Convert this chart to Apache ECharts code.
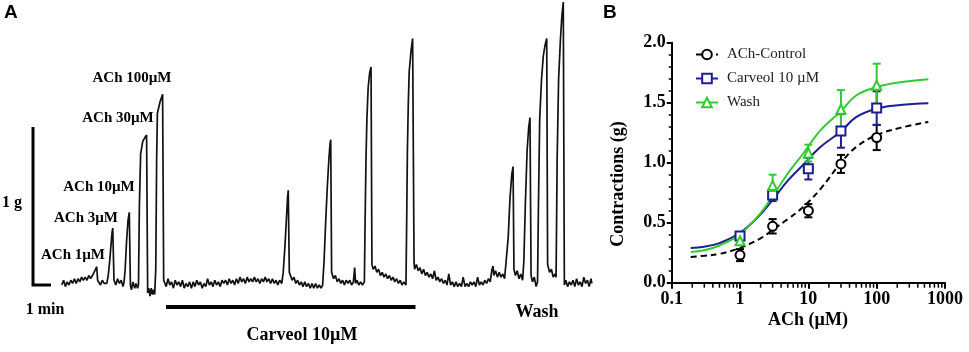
<!DOCTYPE html>
<html>
<head>
<meta charset="utf-8">
<script src="https://cdn.jsdelivr.net/npm/echarts@6/dist/echarts.min.js"></script>
<style>
  html, body { margin: 0; padding: 0; background: #fff; }
  #main { width: 969px; height: 352px; }
</style>
</head>
<body>
<div id="main"></div>
<script>
// panel A: tension trace, time in min, force in g
const traceControl = [
  [1.6, 0.00], [1.7, 0.03], [1.8, -0.01], [1.9, 0.02], [2.0, 0.00], [2.1, 0.03], [2.2, 0.01], [2.3, 0.04],
  [2.4, 0.01], [2.5, 0.04], [2.6, 0.02], [2.7, 0.05], [2.8, 0.03], [2.9, 0.05], [3.0, 0.03], [3.1, 0.06],
  [3.2, 0.04], [3.3, 0.06], [3.4, 0.07], [3.48, 0.10], [3.54, 0.116], [3.59, 0.03], [3.65, 0.02], [3.75, 0.00],
  [3.85, 0.03], [3.95, 0.01], [4.05, 0.02], [4.1, 0.01], [4.18, 0.06], [4.26, 0.15], [4.33, 0.25], [4.39, 0.33],
  [4.43, 0.36], [4.5, 0.03], [4.6, 0.00], [4.7, 0.04], [4.8, 0.01], [4.9, 0.03], [5.0, -0.01], [5.06, 0.02],
  [5.12, 0.10], [5.2, 0.28], [5.28, 0.41], [5.35, 0.46], [5.41, 0.00], [5.47, -0.03], [5.55, 0.02], [5.65, -0.02],
  [5.72, 0.01], [5.81, -0.02], [5.86, 0.00], [5.91, 0.50], [5.98, 0.83], [6.1, 0.91], [6.2, 0.93], [6.31, 0.95],
  [6.37, -0.05], [6.43, -0.02], [6.5, -0.07], [6.57, -0.02], [6.64, -0.06], [6.7, -0.03], [6.76, -0.06],
  [6.82, 0.10], [6.87, 0.80], [6.91, 1.087], [7.06, 1.16], [7.2, 1.207], [7.26, 0.03]
];
const traceCarveol = [
  [7.3, 0.03], [7.4, -0.01], [7.5, 0.04], [7.6, 0.00], [7.7, 0.02], [7.8, -0.02], [7.9, 0.03], [8.0, 0.00],
  [8.1, 0.02], [8.2, -0.01], [8.3, 0.03], [8.4, -0.02], [8.5, 0.01], [8.6, -0.01], [8.7, 0.02], [8.8, -0.02],
  [8.9, 0.02], [9.0, -0.01], [9.1, 0.03], [9.2, 0.00], [9.3, 0.02], [9.4, -0.02], [9.5, 0.01], [9.6, -0.01],
  [9.7, 0.04], [9.8, 0.00], [9.9, 0.02], [10.0, -0.01], [10.1, 0.03], [10.2, 0.00], [10.3, 0.02], [10.4, -0.01],
  [10.5, 0.03], [10.6, 0.01], [10.7, 0.03], [10.8, 0.00], [10.9, 0.04], [11.0, 0.01], [11.1, 0.03], [11.2, 0.00],
  [11.3, 0.04], [11.4, 0.01], [11.5, 0.05], [11.6, 0.02], [11.7, 0.04], [11.8, 0.01], [11.9, 0.05], [12.0, 0.02],
  [12.1, 0.04], [12.2, 0.02], [12.3, 0.05], [12.4, 0.02], [12.5, 0.04], [12.6, 0.01], [12.7, 0.04], [12.8, 0.02],
  [12.9, 0.05], [13.0, 0.02], [13.1, 0.04], [13.2, 0.01], [13.3, 0.04], [13.4, 0.01], [13.5, 0.03], [13.6, 0.00],
  [13.7, 0.03], [13.82, 0.01], [13.9, 0.08], [14.0, 0.25], [14.08, 0.42], [14.14, 0.55], [14.18, 0.60], [14.24, 0.08],
  [14.3, 0.07], [14.4, 0.03], [14.5, 0.05], [14.6, 0.01], [14.7, 0.03], [14.8, 0.00], [14.9, 0.02], [15.0, -0.01],
  [15.1, 0.02], [15.2, -0.01], [15.3, 0.01], [15.4, -0.02], [15.5, 0.01], [15.6, -0.02], [15.7, 0.01], [15.8, -0.02],
  [15.9, 0.00], [16.0, -0.02], [16.09, 0.00], [16.17, 0.15], [16.26, 0.40], [16.35, 0.62], [16.44, 0.80],
  [16.5, 0.89], [16.54, 0.92], [16.59, 0.08], [16.7, 0.04], [16.8, 0.06], [16.9, 0.02], [17.0, 0.04], [17.1, 0.01],
  [17.2, 0.03], [17.3, 0.00], [17.4, 0.03], [17.5, 0.01], [17.6, 0.03], [17.7, 0.00], [17.8, 0.02], [17.87, 0.11],
  [17.92, 0.01], [18.0, 0.03], [18.1, 0.00], [18.2, 0.02], [18.3, 0.00], [18.41, 0.02], [18.45, 0.40],
  [18.5, 0.80], [18.55, 1.05], [18.62, 1.25], [18.7, 1.34], [18.78, 1.38], [18.83, 0.13], [18.9, 0.10],
  [19.0, 0.12], [19.1, 0.08], [19.2, 0.10], [19.3, 0.06], [19.4, 0.08], [19.5, 0.05], [19.6, 0.07], [19.7, 0.04],
  [19.8, 0.06], [19.9, 0.03], [20.0, 0.05], [20.1, 0.02], [20.2, 0.04], [20.3, 0.01], [20.4, 0.03], [20.5, 0.00],
  [20.6, 0.02], [20.72, 0.00], [20.76, 0.40], [20.8, 0.85], [20.85, 1.15], [20.9, 1.35], [21.0, 1.48],
  [21.09, 1.56], [21.17, 0.14], [21.2, 0.10]
];
const traceWash = [
  [21.3, 0.13], [21.4, 0.09], [21.5, 0.11], [21.6, 0.07], [21.7, 0.10], [21.8, 0.06], [21.9, 0.08], [22.0, 0.05],
  [22.1, 0.07], [22.2, 0.04], [22.3, 0.09], [22.4, 0.03], [22.5, 0.05], [22.6, 0.02], [22.7, 0.04], [22.8, 0.01],
  [22.9, 0.03], [23.0, 0.00], [23.1, 0.07], [23.2, 0.00], [23.3, 0.02], [23.4, -0.01], [23.5, 0.02], [23.6, -0.01],
  [23.7, 0.01], [23.8, -0.01], [23.9, 0.05], [24.0, -0.01], [24.1, 0.01], [24.2, -0.01], [24.3, 0.02], [24.4, 0.00],
  [24.5, 0.02], [24.6, -0.01], [24.7, 0.05], [24.8, 0.00], [24.9, 0.02], [25.0, 0.00], [25.1, 0.03], [25.2, 0.01],
  [25.3, 0.04], [25.4, 0.02], [25.5, 0.10], [25.56, 0.12], [25.6, 0.06], [25.7, 0.09], [25.8, 0.05], [25.9, 0.08],
  [26.0, 0.05], [26.1, 0.07], [26.2, 0.04], [26.3, 0.05], [26.4, 0.30], [26.5, 0.55], [26.6, 0.70], [26.67, 0.75],
  [26.72, 0.10], [26.8, 0.06], [26.9, 0.09], [27.0, 0.04], [27.1, 0.07], [27.2, 0.03], [27.27, 0.15],
  [27.35, 0.50], [27.45, 0.85], [27.54, 1.00], [27.61, 1.06], [27.67, 0.06], [27.75, 0.02], [27.85, 0.05],
  [27.95, -0.01], [28.03, 0.02], [28.08, 0.50], [28.15, 1.05], [28.25, 1.30], [28.35, 1.45], [28.45, 1.52],
  [28.54, 1.56], [28.59, 0.13], [28.7, 0.08], [28.8, 0.10], [28.9, 0.05], [29.0, 0.07], [29.06, 0.05],
  [29.12, 0.80], [29.2, 1.30], [29.3, 1.55], [29.38, 1.70], [29.46, 1.79], [29.52, 0.00], [29.6, 0.03],
  [29.7, -0.01], [29.8, 0.02], [29.9, 0.00], [30.0, 0.03], [30.1, -0.01], [30.2, 0.04], [30.3, 0.00], [30.4, 0.02],
  [30.5, -0.01], [30.6, 0.05], [30.7, 0.01], [30.8, 0.03], [30.9, -0.01], [31.0, 0.04], [31.05, 0.01]
];
const scaleBarG = [[0, 1], [0, 0], [1, 0]];      // 1 g / 1 min
const carveolPeriod = [[7.39, -0.139], [21.25, -0.139]];

// panel B: concentration-response
const doses = [1, 3, 10, 30, 100];
const controlMean = [0.23, 0.47, 0.60, 0.99, 1.21];
const controlSem = [0.05, 0.06, 0.055, 0.075, 0.105];
const carveolMean = [0.39, 0.73, 0.95, 1.265, 1.455];
const carveolSem = [0.03, 0.05, 0.09, 0.14, 0.14];
const washMean = [0.35, 0.81, 1.08, 1.445, 1.645];
const washSem = [0.03, 0.09, 0.07, 0.16, 0.18];

const fitX = [0.19, 0.3, 0.5, 1, 2, 3, 5, 8, 15, 30, 50, 100, 220, 570];
const controlFit = [0.215, 0.225, 0.24, 0.29, 0.37, 0.44, 0.53, 0.62, 0.78, 1.0, 1.13, 1.23, 1.29, 1.34];
const carveolFit = [0.29, 0.30, 0.33, 0.415, 0.57, 0.69, 0.85, 0.97, 1.13, 1.26, 1.38, 1.45, 1.48, 1.495];
const washFit = [0.255, 0.27, 0.31, 0.405, 0.58, 0.72, 0.91, 1.06, 1.27, 1.43, 1.56, 1.63, 1.67, 1.695];

const minorTicksX = [0.2, 0.3, 0.4, 0.5, 0.6, 0.7, 0.8, 0.9, 2, 3, 4, 5, 6, 7, 8, 9,
  20, 30, 40, 50, 60, 70, 80, 90, 200, 300, 400, 500, 600, 700, 800, 900];

const BLACK = '#000000';
const NAVY = '#1d1f8f';
const GREEN = '#2fcc2f';
const SERIF = '"Liberation Serif", "DejaVu Serif", serif';

const chart = echarts.init(document.getElementById('main'));

function pairs(xs, ys) {
  return xs.map((x, i) => [x, ys[i]]);
}
function errData(means, sems) {
  return doses.map((d, i) => [d, means[i] - sems[i], means[i] + sems[i]]);
}
function errorBars(name, means, sems, color) {
  return {
    name: name + ' SEM',
    type: 'custom',
    xAxisIndex: 1,
    yAxisIndex: 1,
    z: 3,
    clip: false,
    encode: { x: 0, y: [1, 2] },
    data: errData(means, sems),
    renderItem: function(params, api) {
      const lo = api.coord([api.value(0), api.value(1)])
      const hi = api.coord([api.value(0), api.value(2)])
      const w = 4
      const st = { stroke: color, lineWidth: 2 }
      return {
        type: 'group',
        children: [
          { type: 'line', shape: { x1: lo[0], y1: lo[1], x2: hi[0], y2: hi[1] }, style: st },
          { type: 'line', shape: { x1: lo[0] - w, y1: lo[1], x2: lo[0] + w, y2: lo[1] }, style: st },
          { type: 'line', shape: { x1: hi[0] - w, y1: hi[1], x2: hi[0] + w, y2: hi[1] }, style: st }
        ]
      }
    }
  };
}
function fitCurve(name, ys, color, symbol, dashed) {
  return {
    name: name,
    type: 'line',
    xAxisIndex: 1,
    yAxisIndex: 1,
    data: pairs(fitX, ys),
    smooth: 0.4,
    symbol: symbol,
    symbolSize: 9,
    showSymbol: false,
    z: 2,
    itemStyle: { color: color, borderWidth: 2 },
    lineStyle: { color: color, width: 2, type: dashed ? [6, 4] : 'solid' }
  };
}
function points(name, means, color, symbol) {
  return {
    name: name + ' mean',
    type: 'scatter',
    xAxisIndex: 1,
    yAxisIndex: 1,
    z: 4,
    symbol: symbol,
    symbolSize: 9,
    data: pairs(doses, means),
    itemStyle: { color: '#fff', borderColor: color, borderWidth: 2, opacity: 1 }
  };
}

function txt(text, x, y, size, extra) {
  return Object.assign({
    type: 'text',
    x: x,
    y: y,
    style: {
      text: text,
      font: 'bold ' + size + 'px ' + SERIF,
      fill: BLACK,
      align: 'center',
      verticalAlign: 'middle'
    }
  }, extra || {});
}

chart.setOption({
  animation: false,
  backgroundColor: '#fff',
  grid: [
    { left: 33, top: 0.6, width: 567, height: 309.7 },
    { left: 671.7, top: 42.7, width: 273.3, height: 240 }
  ],
  xAxis: [
    { gridIndex: 0, type: 'value', min: 0, max: 31.5, show: false },
    {
      gridIndex: 1,
      type: 'log',
      logBase: 10,
      min: 0.1,
      max: 1000,
      axisLine: { lineStyle: { color: BLACK, width: 2 } },
      axisTick: { length: 6, lineStyle: { color: BLACK, width: 2 } },
      splitLine: { show: false },
      axisLabel: {
        color: BLACK,
        fontFamily: SERIF,
        fontWeight: 'bold',
        fontSize: 18,
        margin: 8,
        formatter: v => String(+(+v).toPrecision(6))
      }
    }
  ],
  yAxis: [
    { gridIndex: 0, type: 'value', min: -0.16, max: 1.8, show: false },
    {
      gridIndex: 1,
      type: 'value',
      min: 0,
      max: 2,
      interval: 0.5,
      axisLine: { show: true, lineStyle: { color: BLACK, width: 2 } },
      axisTick: { show: true, length: 5, lineStyle: { color: BLACK, width: 2 } },
      minorTick: { show: true, splitNumber: 5, length: 3, lineStyle: { color: BLACK, width: 1.5 } },
      splitLine: { show: false },
      axisLabel: {
        color: BLACK,
        fontFamily: SERIF,
        fontWeight: 'bold',
        fontSize: 18,
        margin: 6,
        formatter: v => v.toFixed(1)
      }
    }
  ],
  legend: {
    orient: 'vertical',
    left: 690,
    top: 42,
    itemWidth: 22,
    itemHeight: 12,
    itemGap: 9,
    data: ['ACh-Control', 'Carveol 10 µM', 'Wash'],
    textStyle: { color: '#222', fontFamily: SERIF, fontSize: 15, padding: [0, 0, 0, 4] }
  },
  series: [
    {
      name: 'trace',
      type: 'line',
      xAxisIndex: 0,
      yAxisIndex: 0,
      data: traceControl.concat(traceCarveol, traceWash),
      showSymbol: false,
      symbol: 'none',
      lineStyle: { color: '#111', width: 1.7 },
      clip: false
    },
    {
      name: 'scale',
      type: 'line',
      xAxisIndex: 0,
      yAxisIndex: 0,
      data: scaleBarG,
      symbol: 'none',
      clip: false,
      lineStyle: { color: BLACK, width: 3, join: 'miter' }
    },
    {
      name: 'carveol period',
      type: 'line',
      xAxisIndex: 0,
      yAxisIndex: 0,
      data: carveolPeriod,
      symbol: 'none',
      clip: false,
      lineStyle: { color: BLACK, width: 4 }
    },
    fitCurve('ACh-Control', controlFit, BLACK, 'emptyCircle', true),
    fitCurve('Carveol 10 µM', carveolFit, NAVY, 'emptyRect', false),
    fitCurve('Wash', washFit, GREEN, 'emptyTriangle', false),
    errorBars('ACh-Control', controlMean, controlSem, BLACK),
    errorBars('Carveol 10 µM', carveolMean, carveolSem, NAVY),
    errorBars('Wash', washMean, washSem, GREEN),
    points('ACh-Control', controlMean, BLACK, 'circle'),
    points('Carveol 10 µM', carveolMean, NAVY, 'rect'),
    points('Wash', washMean, GREEN, 'triangle'),
    {
      // log-axis minor ticks (2..9 per decade), drawn below the axis line
      name: 'minor ticks',
      type: 'scatter',
      xAxisIndex: 1,
      yAxisIndex: 1,
      clip: false,
      silent: true,
      z: 5,
      symbol: 'rect',
      symbolSize: [1.5, 4],
      symbolOffset: [0, 3],
      data: minorTicksX.map(v => [v, 0]),
      itemStyle: { color: BLACK, opacity: 1 }
    }
  ],
  graphic: [
    { type: 'text', x: 4, y: 3, style: { text: 'A', font: 'bold 19px "Liberation Sans", Arial, sans-serif', fill: BLACK } },
    { type: 'text', x: 603, y: 3, style: { text: 'B', font: 'bold 19px "Liberation Sans", Arial, sans-serif', fill: BLACK } },
    txt('ACh 100µM', 132, 78, 15),
    txt('ACh 30µM', 118, 118, 15),
    txt('ACh 10µM', 99, 187, 15),
    txt('ACh 3µM', 86, 218, 15),
    txt('ACh 1µM', 73, 255, 15),
    txt('1 g', 12, 203, 16),
    txt('1 min', 45, 310, 16),
    txt('Carveol 10µM', 302, 335, 18),
    txt('Wash', 537, 312, 18),
    txt('Contractions (g)', 618, 184, 18, { rotation: Math.PI / 2 }),
    txt('ACh (µM)', 808, 320, 18)
  ]
});
</script>
</body>
</html>
